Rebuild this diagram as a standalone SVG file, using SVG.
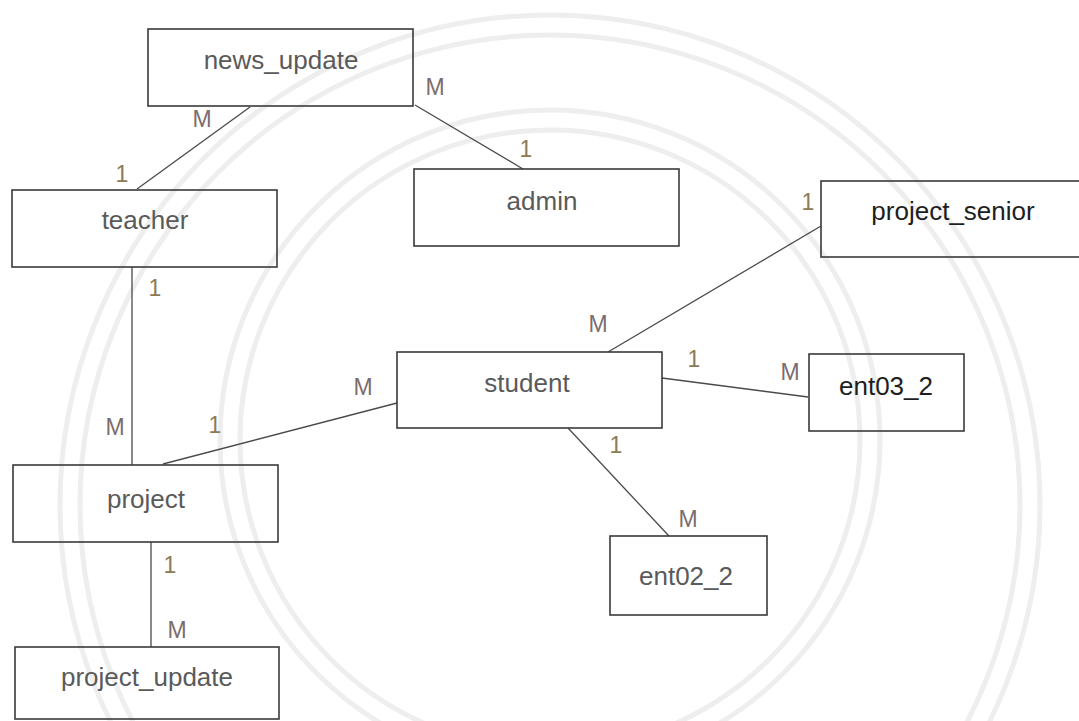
<svg xmlns="http://www.w3.org/2000/svg" width="1079" height="721" viewBox="0 0 1079 721">
<style>
.bg{fill:#ffffff}
.wm{fill:none;stroke:#eeeeee;stroke-width:5}
.box{fill:none;stroke:#3a3a3a;stroke-width:1.6}
.name{font-family:"Liberation Sans",Arial,sans-serif;font-size:26px;fill:#5a5a5a;text-anchor:middle}
.dark{fill:#1e1e1e}
.con line{stroke:#4a4a4a;stroke-width:1.3}
.one{font-family:"Liberation Sans",Arial,sans-serif;font-size:23px;fill:#8c7a55;text-anchor:middle}
.many{font-family:"Liberation Sans",Arial,sans-serif;font-size:23px;fill:#7d6c6c;text-anchor:middle}
</style>
<rect class="bg" x="0" y="0" width="1079" height="721"/>
<g id="watermark">
<circle class="wm" cx="550" cy="505" r="490"/>
<circle class="wm" cx="550" cy="505" r="470"/>
<circle class="wm" cx="550" cy="440" r="330"/>
<circle class="wm" cx="550" cy="440" r="310"/>
</g>
<g id="connectors" class="con">
<line x1="250" y1="107" x2="137" y2="189"/>
<line x1="415" y1="105" x2="523" y2="169"/>
<line x1="132" y1="267" x2="132" y2="465"/>
<line x1="163" y1="464" x2="397" y2="403"/>
<line x1="151" y1="542" x2="151" y2="647"/>
<line x1="608" y1="352" x2="821" y2="226"/>
<line x1="662" y1="378" x2="808" y2="397"/>
<line x1="568" y1="428" x2="669" y2="536"/>
</g>
<g id="news_update">
<rect class="box" x="148" y="29" width="265" height="77"/>
<text class="name" x="281" y="69">news_update</text>
</g>
<g id="teacher">
<rect class="box" x="12" y="190" width="265" height="77"/>
<text class="name" x="145" y="229">teacher</text>
</g>
<g id="admin">
<rect class="box" x="414" y="169" width="265" height="77"/>
<text class="name" x="542" y="210">admin</text>
</g>
<g id="project_senior">
<rect class="box" x="821" y="181" width="270" height="76"/>
<text class="name dark" x="953" y="220">project_senior</text>
</g>
<g id="student">
<rect class="box" x="397" y="352" width="265" height="76"/>
<text class="name" x="527" y="392">student</text>
</g>
<g id="ent03_2">
<rect class="box" x="809" y="354" width="155" height="77"/>
<text class="name dark" x="886" y="395">ent03_2</text>
</g>
<g id="project">
<rect class="box" x="13" y="465" width="265" height="77"/>
<text class="name" x="146" y="508">project</text>
</g>
<g id="ent02_2">
<rect class="box" x="610" y="536" width="157" height="79"/>
<text class="name" x="686" y="585">ent02_2</text>
</g>
<g id="project_update">
<rect class="box" x="15" y="647" width="264" height="72"/>
<text class="name" x="147" y="686">project_update</text>
</g>
<g id="labels">
<text class="many" x="202" y="127">M</text>
<text class="one" x="122" y="182">1</text>
<text class="many" x="435" y="95">M</text>
<text class="one" x="526" y="157">1</text>
<text class="one" x="155" y="296">1</text>
<text class="many" x="115" y="435">M</text>
<text class="one" x="215" y="433">1</text>
<text class="many" x="363" y="395">M</text>
<text class="many" x="598" y="332">M</text>
<text class="one" x="808" y="210">1</text>
<text class="one" x="694" y="367">1</text>
<text class="many" x="790" y="380">M</text>
<text class="one" x="616" y="453">1</text>
<text class="many" x="688" y="527">M</text>
<text class="one" x="170" y="573">1</text>
<text class="many" x="177" y="638">M</text>
</g>
</svg>
